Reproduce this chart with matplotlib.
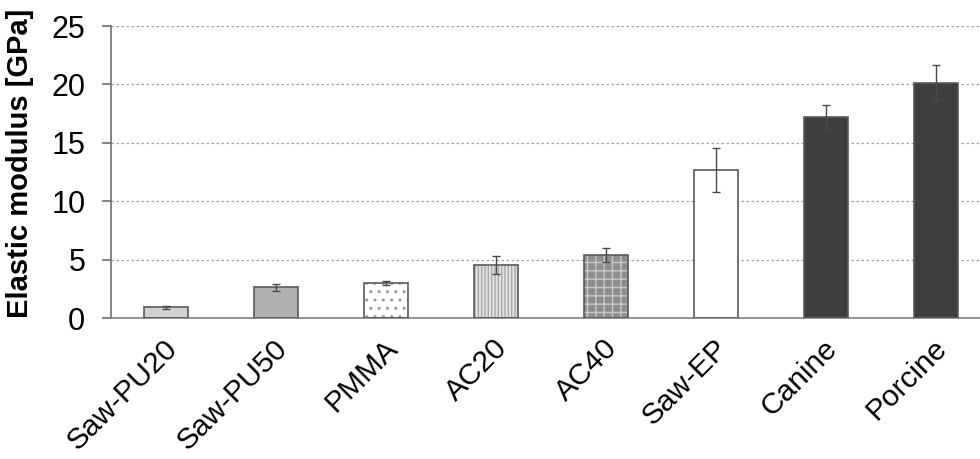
import matplotlib.pyplot as plt
from matplotlib.transforms import ScaledTranslation

plt.rcParams['font.family'] = ['Liberation Sans', 'DejaVu Sans']

# data
labels = ['Saw-PU20', 'Saw-PU50', 'PMMA', 'AC20', 'AC40', 'Saw-EP', 'Canine', 'Porcine']
modulus = [0.9, 2.65, 3.0, 4.55, 5.4, 12.65, 17.2, 20.15]
err = [0.15, 0.3, 0.2, 0.75, 0.6, 1.9, 1.0, 1.5]

fills = ['#d2d2d2', '#b2afaf', '#ffffff', '#e2e2e2', '#8e8e8e', '#ffffff', '#3e3e3e', '#3e3e3e']
hatches = [None, None, '..', '|||||', '++', None, None, None]
hatch_cols = [None, None, '#9a9a9a', '#a8a8a8', '#c8c8c8', None, None, None]

fig = plt.figure(figsize=(9.8, 4.59), dpi=100)
ax = fig.add_axes([111 / 980, (459 - 318) / 459, 880 / 980, 292 / 459])

x = list(range(len(labels)))

# fill + hatch first, then the outline on top
for i in x:
    if hatches[i]:
        ax.bar(x[i], modulus[i], width=0.4, color=fills[i], hatch=hatches[i],
               edgecolor=hatch_cols[i], linewidth=0, zorder=2)
    else:
        ax.bar(x[i], modulus[i], width=0.4, color=fills[i], linewidth=0, zorder=2)
ax.bar(x, modulus, width=0.4, fill=False, edgecolor='#5a5a5a', linewidth=1.2, zorder=3)

ax.errorbar(x, modulus, yerr=err, fmt='none', ecolor='#4a4a4a', elinewidth=1,
            capsize=3, capthick=1, zorder=4)

ax.set_xlim(-0.5, len(labels) - 0.5)
ax.set_ylim(0, 25)
ax.set_yticks([0, 5, 10, 15, 20, 25])
ax.yaxis.grid(True, linestyle=(0, (2, 2)), color='#a0a0a0', linewidth=0.9)
ax.set_axisbelow(True)

ax.set_xticks(x)
ax.set_xticklabels(labels, rotation=45, ha='right', va='center',
                   rotation_mode='anchor', fontsize=21.5)
ax.tick_params(axis='x', length=0, pad=13)
shift = ScaledTranslation(7 / 100, -8 / 100, fig.dpi_scale_trans)
for lab in ax.get_xticklabels():
    lab.set_transform(lab.get_transform() + shift)

ax.tick_params(axis='y', direction='out', length=6.5, width=1.2, color='#707070',
               labelsize=22, pad=12)

for s in ['top', 'right']:
    ax.spines[s].set_visible(False)
ax.spines['left'].set_color('#707070')
ax.spines['bottom'].set_color('#808080')
ax.spines['left'].set_linewidth(1.2)
ax.spines['bottom'].set_linewidth(1.2)

ax.set_ylabel('Elastic modulus [GPa]', fontsize=21, fontweight='bold')
ax.yaxis.set_label_coords(-0.087, 0.53)

fig.savefig('out.png', dpi=100)
